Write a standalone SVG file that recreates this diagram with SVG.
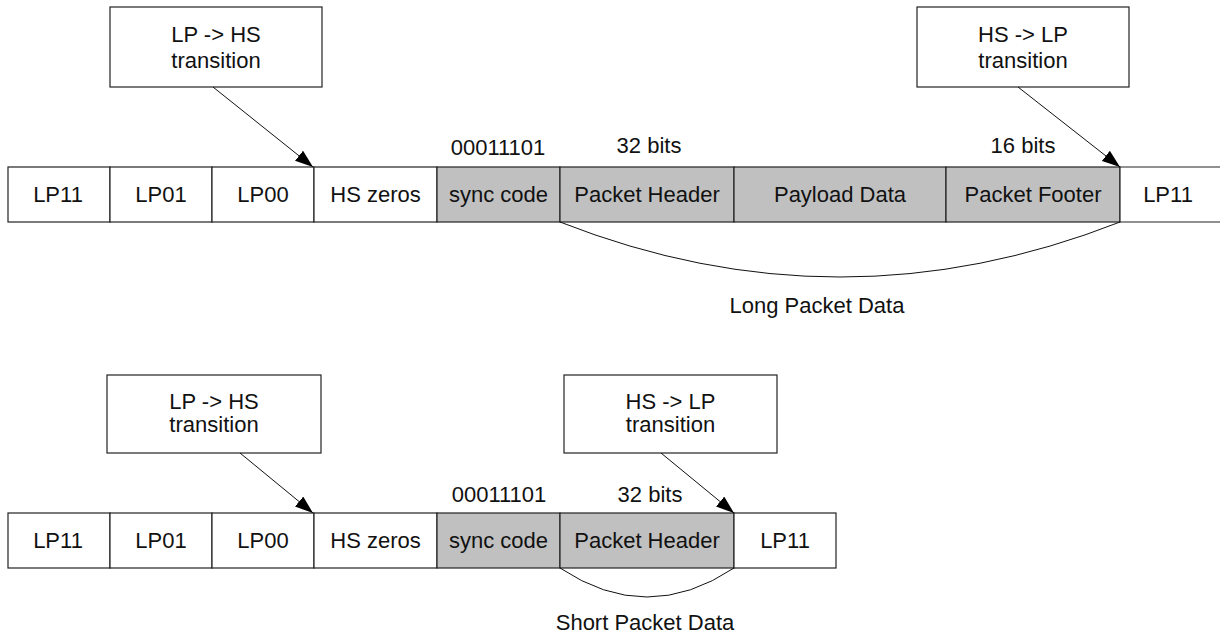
<svg xmlns="http://www.w3.org/2000/svg" width="1220" height="634" viewBox="0 0 1220 634">
<defs>
<marker id="ah" viewBox="0 0 18 13" refX="18" refY="6.5" markerWidth="18" markerHeight="13" markerUnits="userSpaceOnUse" orient="auto">
<path d="M0,0 L18,6.5 L0,13 Z" fill="#000"/>
</marker>
<style>
.c{fill:#fff;stroke:#222;stroke-width:1.2}
.g{fill:#c0c0c0;stroke:#222;stroke-width:1.2}
text{font-family:"Liberation Sans",Arial,sans-serif;font-size:22px;fill:#111;text-anchor:middle}
.ln{fill:none;stroke:#111;stroke-width:1}
</style>
</defs>
<rect width="1220" height="634" fill="#fff"/>

<!-- Long packet row -->
<g id="top-row">
<g id="t-lp11a"><rect class="c" x="8" y="167" width="102" height="55"/><text x="58" y="202">LP11</text></g>
<g id="t-lp01"><rect class="c" x="110" y="167" width="102" height="55"/><text x="161" y="202">LP01</text></g>
<g id="t-lp00"><rect class="c" x="212" y="167" width="102" height="55"/><text x="263" y="202">LP00</text></g>
<g id="t-hszeros"><rect class="c" x="314" y="167" width="123" height="55"/><text x="375.5" y="202">HS zeros</text></g>
<g id="t-sync"><rect class="g" x="437" y="167" width="123" height="55"/><text x="498.5" y="202">sync code</text></g>
<g id="t-header"><rect class="g" x="560" y="167" width="174" height="55"/><text x="647" y="202">Packet Header</text></g>
<g id="t-payload"><rect class="g" x="734" y="167" width="212" height="55"/><text x="840" y="202">Payload Data</text></g>
<g id="t-footer"><rect class="g" x="946" y="167" width="174" height="55"/><text x="1033" y="202">Packet Footer</text></g>
<g id="t-lp11b"><path class="c" d="M1225,167 H1120 V222 H1225"/><text x="1168" y="202">LP11</text></g>
</g>

<g id="t-callout-lphs"><rect class="c" x="110" y="7" width="212" height="80"/><text x="216" y="42">LP -&gt; HS</text><text x="216" y="68">transition</text></g>
<g id="t-callout-hslp"><rect class="c" x="917" y="7" width="212" height="80"/><text x="1023" y="42">HS -&gt; LP</text><text x="1023" y="68">transition</text></g>

<g id="t-labels">
<text x="498" y="155">00011101</text>
<text x="649" y="153">32 bits</text>
<text x="1023" y="153">16 bits</text>
<text x="817" y="313">Long Packet Data</text>
</g>

<!-- Short packet row -->
<g id="bottom-row">
<g id="b-lp11a"><rect class="c" x="8" y="513" width="102" height="55"/><text x="58" y="548">LP11</text></g>
<g id="b-lp01"><rect class="c" x="110" y="513" width="102" height="55"/><text x="161" y="548">LP01</text></g>
<g id="b-lp00"><rect class="c" x="212" y="513" width="102" height="55"/><text x="263" y="548">LP00</text></g>
<g id="b-hszeros"><rect class="c" x="314" y="513" width="123" height="55"/><text x="375.5" y="548">HS zeros</text></g>
<g id="b-sync"><rect class="g" x="437" y="513" width="123" height="55"/><text x="498.5" y="548">sync code</text></g>
<g id="b-header"><rect class="g" x="560" y="513" width="174" height="55"/><text x="647" y="548">Packet Header</text></g>
<g id="b-lp11b"><rect class="c" x="734" y="513" width="102" height="55"/><text x="785" y="548">LP11</text></g>
</g>

<g id="b-callout-lphs"><rect class="c" x="107" y="375" width="214" height="78"/><text x="214" y="409">LP -&gt; HS</text><text x="214" y="432">transition</text></g>
<g id="b-callout-hslp"><rect class="c" x="564" y="375" width="213" height="78"/><text x="670.5" y="409">HS -&gt; LP</text><text x="670.5" y="432">transition</text></g>

<g id="b-labels">
<text x="499" y="502">00011101</text>
<text x="650" y="502">32 bits</text>
<text x="645" y="630">Short Packet Data</text>
</g>

<g id="connectors">
<line class="ln" x1="213" y1="87" x2="313" y2="167" marker-end="url(#ah)"/>
<line class="ln" x1="1018" y1="87" x2="1120" y2="167" marker-end="url(#ah)"/>
<line class="ln" x1="240" y1="453" x2="313" y2="513" marker-end="url(#ah)"/>
<line class="ln" x1="661" y1="453" x2="734" y2="513" marker-end="url(#ah)"/>
<path class="ln" d="M560,222 Q840,332 1120,222"/>
<path class="ln" d="M560,568 Q647,626 734,568"/>
</g>
</svg>
